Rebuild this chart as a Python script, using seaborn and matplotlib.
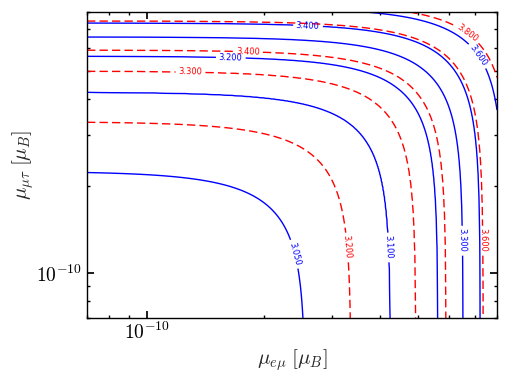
import numpy as np
import seaborn as sns
import matplotlib
matplotlib.use("Agg")
import matplotlib.pyplot as plt
from matplotlib.ticker import NullFormatter, FuncFormatter, FixedLocator

# contour levels and where each contour meets the left / bottom of the
# frame (units of 1e-10 mu_B)
blue_levels = [3.05, 3.10, 3.20, 3.30, 3.40, 3.60]
blue_x_edge = [2.56, 4.25, 5.63, 6.54, 7.24, 8.31]
blue_y_edge = [2.25, 4.23, 5.63, 6.56, 7.33, 8.31]

red_levels = [3.20, 3.30, 3.40, 3.60, 3.80]
red_x_edge = [3.36, 4.94, 5.91, 7.37, 8.62]
red_y_edge = [3.34, 5.00, 5.91, 7.45, 8.62]

corner_power = 2.8          # how square the corners of the contours are
mu_lo, mu_hi = 0.7e-10, 8.0e-10


def level_field(X, Y, levels, x_edge, y_edge, p=corner_power):
    # field whose iso-lines are the curves (x/a)^p + (y/b)^p = 1
    a = np.asarray(x_edge)[:, None, None] * 1e-10
    b = np.asarray(y_edge)[:, None, None] * 1e-10
    H = np.log((X / a) ** p + (Y / b) ** p)
    lv = np.asarray(levels)
    k = np.clip((H > 0).sum(axis=0) - 1, 0, len(lv) - 2)
    h0 = np.take_along_axis(H, k[None], axis=0)[0]
    h1 = np.take_along_axis(H, (k + 1)[None], axis=0)[0]
    return lv[k] + (lv[k + 1] - lv[k]) * h0 / (h0 - h1)


sns.set_theme(style="white", color_codes=False, rc={
    "xtick.direction": "in", "ytick.direction": "in",
    "xtick.top": True, "ytick.right": True,
    "xtick.bottom": True, "ytick.left": True,
    "xtick.major.size": 5, "ytick.major.size": 5,
    "xtick.minor.size": 2.5, "ytick.minor.size": 2.5,
    "xtick.minor.visible": True, "ytick.minor.visible": True,
    "axes.edgecolor": "black", "axes.linewidth": 1.0,
    "xtick.color": "black", "ytick.color": "black",
})
plt.rcParams["mathtext.fontset"] = "cm"
plt.rcParams["font.family"] = ["DejaVu Sans"]

g = np.logspace(np.log10(mu_lo), np.log10(mu_hi), 500)
X, Y = np.meshgrid(g, g)
Zb = level_field(X, Y, blue_levels, blue_x_edge, blue_y_edge)
Zr = level_field(X, Y, red_levels, red_x_edge, red_y_edge)

fig = plt.figure(figsize=(5.07, 3.80), dpi=100)
ax = fig.add_axes([0.1716, 0.1632, 0.8087, 0.8052])
ax.set_xscale("log")
ax.set_yscale("log")
ax.set_xlim(mu_lo, mu_hi)
ax.set_ylim(mu_lo, mu_hi)

cb = ax.contour(X, Y, Zb, levels=blue_levels, colors="#0000ff",
                linewidths=1.0, linestyles="solid")
cr = ax.contour(X, Y, Zr, levels=red_levels, colors="#ff0000",
                linewidths=1.0, linestyles=[(0, (6, 3))])

e = 1e-10
ax.clabel(cb, fmt="%.3f", fontsize=6, inline=True, inline_spacing=3,
          manual=[(2.42*e, 1.17*e), (4.20*e, 1.23*e), (1.64*e, 5.59*e),
                  (6.46*e, 1.30*e), (2.59*e, 7.04*e), (7.07*e, 5.59*e)])
ax.clabel(cr, fmt="%.3f", fontsize=6, inline=True, inline_spacing=3,
          manual=[(3.25*e, 1.23*e), (1.29*e, 4.96*e), (1.82*e, 5.86*e),
                  (7.37*e, 1.30*e), (6.66*e, 6.66*e)])

decade = FuncFormatter(lambda v, pos: r"$10^{%d}$" % round(np.log10(v)))
for axis in (ax.xaxis, ax.yaxis):
    axis.set_major_locator(FixedLocator([1e-10]))
    axis.set_major_formatter(decade)
    axis.set_minor_formatter(NullFormatter())
ax.tick_params(which="both", labelsize=14)
ax.tick_params(axis="x", pad=3)
ax.tick_params(axis="y", pad=4)
ax.set_xlabel(r"$\mu_{e\mu}\;[\mu_B]$", fontsize=15, labelpad=3)
ax.set_ylabel(r"$\mu_{\mu\tau}\;[\mu_B]$", fontsize=15, labelpad=0)

fig.savefig("out.png", dpi=100)
